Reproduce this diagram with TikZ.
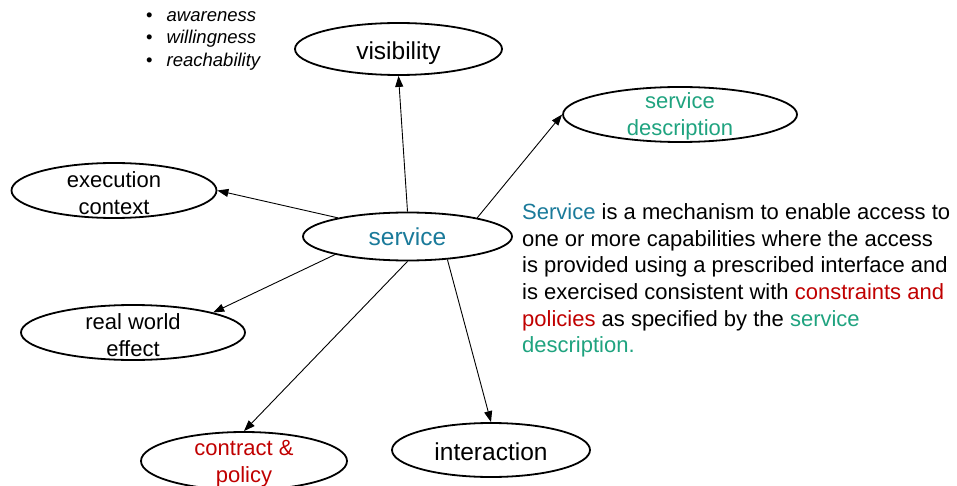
\documentclass[tikz,border=0pt]{standalone}
\usepackage{fontspec}
\setmainfont{Liberation Sans}
\usetikzlibrary{shapes.geometric,arrows.meta}
\definecolor{svcblue}{HTML}{1A7A9A}
\definecolor{descgreen}{HTML}{1FA37F}
\definecolor{policyred}{HTML}{C00000}
\tikzset{
  concept/.style={draw, ellipse, line width=1.8pt, inner xsep=0pt, inner ysep=-15pt, align=center, text height=47.5pt, font=\fontsize{22}{27}\selectfont},
  bigconcept/.style={draw, ellipse, line width=1.8pt, inner sep=0pt, align=center, font=\fontsize{24.5}{27}\selectfont},
  link/.style={-{Triangle[length=11pt,width=8pt]}, line width=0.9pt}
}

\begin{document}
\begin{tikzpicture}[x=1pt,y=-1pt]
    \useasboundingbox (0,0) rectangle (957,486);

        \node[bigconcept, minimum width=207pt, minimum height=52pt, text height=25.5pt] (visibility) at (398.5,49) {visibility};
        \node[bigconcept, minimum width=209pt, minimum height=48pt, text=svcblue] (service) at (407.5,236.5) {service};
        \node[concept, minimum width=234pt, minimum height=55pt, text=descgreen] (sdesc) at (680,114.5) {service\\description};
        \node[concept, minimum width=205pt, minimum height=55pt] (exec) at (114,190.5) {execution\\context};
        \node[concept, minimum width=224pt, minimum height=55pt] (rwe) at (133,332.5) {real world\\effect};
        \node[concept, minimum width=206pt, minimum height=58pt, text=policyred] (contract) at (244,461) {contract \&\\policy};
        \node[bigconcept, minimum width=198pt, minimum height=54pt, text height=21.5pt] (interaction) at (491,450) {interaction};

        \node[anchor=north west, inner sep=0pt, align=left, font=\fontsize{18.5}{22.5}\selectfont] (qualities) at (146,11)
            {\textbullet\hspace{14pt}\textit{awareness}\\ \textbullet\hspace{14pt}\textit{willingness}\\ \textbullet\hspace{14pt}\textit{reachability}};

        \node[anchor=north west, inner sep=0pt, align=left, font=\fontsize{22}{26.6}\selectfont] (definition) at (522,203.5)
            {\textcolor{svcblue}{Service} is a mechanism to enable access to\\
             one or more capabilities where the access\\
             is provided using a prescribed interface and\\
             is exercised consistent with \textcolor{policyred}{constraints and}\\
             \textcolor{policyred}{policies} as specified by the \textcolor{descgreen}{service}\\
             \textcolor{descgreen}{description.}};

        \draw[link] (service.north) -- (visibility.south);
        \draw[link] (service.15) -- (sdesc.west);
        \draw[link] (service.165) -- (exec.east);
        \draw[link] (service.194) -- (rwe.14);
        \draw[link] (service.south) -- (contract.north);
        \draw[link] (service.330) -- (interaction.north);

\end{tikzpicture}
\end{document}
